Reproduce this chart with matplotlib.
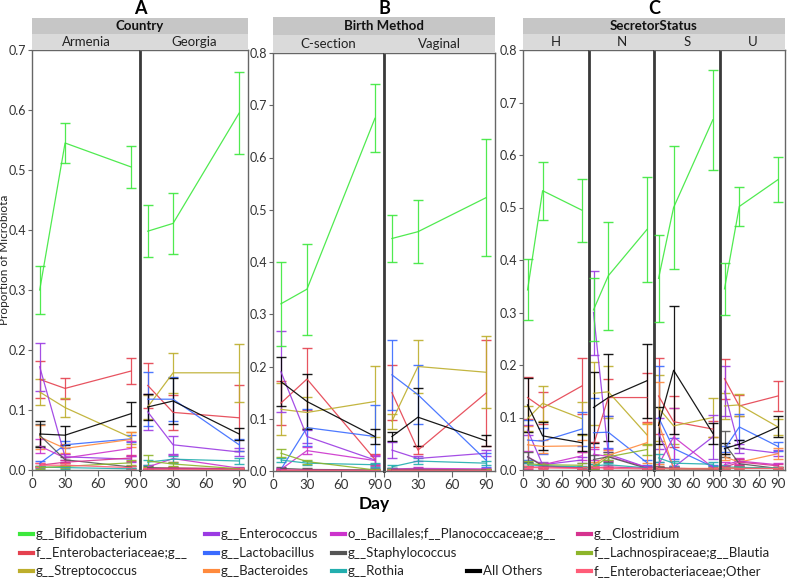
import matplotlib
matplotlib.use("Agg")
import matplotlib.pyplot as plt
from matplotlib.patches import Rectangle
from matplotlib.lines import Line2D

plt.rcParams['font.family'] = ['Lato', 'DejaVu Sans']

# Panel order: Armenia, Georgia, C-section, Vaginal, H, N, S, U
days = [7, 30, 90]
groups = ["Country", "Birth Method", "SecretorStatus"]
group_letters = ["A", "B", "C"]
subpanels = ["Armenia", "Georgia", "C-section", "Vaginal", "H", "N", "S", "U"]
xticks = [0, 30, 60, 90]

bifido_mean = [[0.300, 0.545, 0.505], [0.398, 0.411, 0.595], [0.320, 0.348, 0.675], [0.445, 0.458, 0.523],
               [0.343, 0.532, 0.495], [0.305, 0.370, 0.458], [0.365, 0.500, 0.667], [0.345, 0.502, 0.553]]
bifido_err = [[0.040, 0.034, 0.035], [0.043, 0.051, 0.068], [0.080, 0.087, 0.065], [0.045, 0.060, 0.112],
              [0.058, 0.055, 0.060], [0.060, 0.103, 0.100], [0.083, 0.117, 0.095], [0.050, 0.038, 0.043]]

entg_mean = [[0.151, 0.136, 0.165], [0.141, 0.096, 0.087], [0.130, 0.176, 0.022], [0.150, 0.040, 0.149],
             [0.138, 0.118, 0.160], [0.048, 0.138, 0.138], [0.141, 0.092, 0.078], [0.174, 0.122, 0.141]]
entg_err = [[0.031, 0.017, 0.022], [0.037, 0.029, 0.055], [0.042, 0.059, 0.010], [0.053, 0.007, 0.101],
            [0.040, 0.030, 0.054], [0.005, 0.035, 0.047], [0.073, 0.049, 0.015], [0.038, 0.020, 0.029]]

strep_mean = [[0.130, 0.104, 0.054], [0.105, 0.162, 0.162], [0.118, 0.112, 0.133], [0.095, 0.200, 0.189],
              [0.098, 0.127, 0.098], [0.146, 0.149, 0.067], [0.118, 0.084, 0.100], [0.122, 0.124, 0.082]]
strep_err = [[0.021, 0.016, 0.010], [0.020, 0.033, 0.048], [0.050, 0.029, 0.068], [0.015, 0.051, 0.069],
             [0.023, 0.033, 0.032], [0.060, 0.049, 0.020], [0.063, 0.034, 0.038], [0.024, 0.021, 0.015]]

enteroc_mean = [[0.172, 0.022, 0.018], [0.097, 0.042, 0.030], [0.190, 0.066, 0.021], [0.040, 0.024, 0.034],
                [0.076, 0.010, 0.019], [0.300, 0.030, 0.005], [0.070, 0.005, 0.063], [0.150, 0.041, 0.032]]
enteroc_err = [[0.040, 0.005, 0.005], [0.030, 0.015, 0.006], [0.078, 0.012, 0.008], [0.016, 0.004, 0.006],
               [0.010, 0.005, 0.005], [0.080, 0.010, 0.003], [0.030, 0.003, 0.042], [0.048, 0.008, 0.006]]

lacto_mean = [[0.011, 0.042, 0.052], [0.118, 0.118, 0.042], [0.003, 0.083, 0.066], [0.184, 0.146, 0.021],
              [0.057, 0.055, 0.078], [0.071, 0.072, 0.014], [0.100, 0.041, 0.006], [0.040, 0.082, 0.045]]
lacto_err = [[0.004, 0.006, 0.006], [0.045, 0.037, 0.010], [0.002, 0.036, 0.060], [0.067, 0.057, 0.013],
             [0.038, 0.025, 0.033], [0.067, 0.030, 0.005], [0.098, 0.020, 0.004], [0.005, 0.025, 0.008]]

bactero_mean = [[0.055, 0.036, 0.051], [0.003, 0.003, 0.002], [0.002, 0.002, 0.002], [0.002, 0.002, 0.002],
                [0.048, 0.045, 0.046], [0.010, 0.028, 0.052], [0.090, 0.003, 0.003], [0.025, 0.015, 0.031]]
bactero_err = [[0.020, 0.008, 0.012], [0.002, 0.002, 0.001], [0.001, 0.001, 0.001], [0.001, 0.001, 0.001],
               [0.035, 0.012, 0.012], [0.006, 0.010, 0.038], [0.078, 0.002, 0.002], [0.005, 0.006, 0.010]]

bacill_mean = [[0.040, 0.020, 0.036], [0.005, 0.019, 0.003], [0.003, 0.039, 0.020], [0.004, 0.005, 0.004],
               [0.025, 0.010, 0.027], [0.030, 0.026, 0.005], [0.010, 0.063, 0.005], [0.010, 0.017, 0.010]]
bacill_err = [[0.012, 0.006, 0.012], [0.004, 0.006, 0.002], [0.002, 0.006, 0.010], [0.002, 0.002, 0.002],
              [0.012, 0.004, 0.008], [0.010, 0.008, 0.003], [0.006, 0.055, 0.003], [0.005, 0.006, 0.004]]

staph_mean = [[0.058, 0.017, 0.005], [0.004, 0.003, 0.002], [0.005, 0.003, 0.002], [0.003, 0.003, 0.002],
              [0.025, 0.008, 0.004], [0.020, 0.025, 0.003], [0.005, 0.003, 0.002], [0.050, 0.012, 0.003]]
staph_err = [[0.018, 0.005, 0.002], [0.002, 0.002, 0.001], [0.003, 0.002, 0.001], [0.002, 0.002, 0.001],
             [0.010, 0.004, 0.002], [0.008, 0.010, 0.002], [0.003, 0.002, 0.001], [0.025, 0.005, 0.002]]

rothia_mean = [[0.005, 0.004, 0.002], [0.013, 0.018, 0.015], [0.021, 0.015, 0.012], [0.008, 0.019, 0.015],
               [0.010, 0.008, 0.006], [0.008, 0.010, 0.004], [0.023, 0.013, 0.011], [0.006, 0.005, 0.004]]
rothia_err = [[0.002, 0.002, 0.001], [0.004, 0.006, 0.005], [0.004, 0.004, 0.004], [0.003, 0.006, 0.004],
              [0.004, 0.003, 0.002], [0.004, 0.004, 0.002], [0.008, 0.005, 0.004], [0.003, 0.002, 0.002]]

others_mean = [[0.060, 0.058, 0.094], [0.105, 0.115, 0.060], [0.171, 0.133, 0.066], [0.066, 0.103, 0.058],
               [0.124, 0.065, 0.052], [0.119, 0.138, 0.170], [0.085, 0.190, 0.070], [0.041, 0.049, 0.082]]
others_err = [[0.022, 0.016, 0.020], [0.021, 0.039, 0.010], [0.047, 0.053, 0.015], [0.008, 0.056, 0.011],
              [0.052, 0.027, 0.016], [0.067, 0.083, 0.070], [0.035, 0.122, 0.020], [0.010, 0.008, 0.020]]

clost_mean = [[0.008, 0.013, 0.020], [0.002, 0.003, 0.002], [0.002, 0.002, 0.001], [0.002, 0.002, 0.001],
              [0.005, 0.006, 0.004], [0.004, 0.006, 0.003], [0.003, 0.003, 0.002], [0.005, 0.015, 0.008]]
clost_err = [[0.003, 0.004, 0.005], [0.001, 0.002, 0.001], [0.001, 0.001, 0.001], [0.001, 0.001, 0.001],
             [0.003, 0.003, 0.002], [0.002, 0.003, 0.002], [0.002, 0.002, 0.001], [0.003, 0.006, 0.004]]

blautia_mean = [[0.004, 0.006, 0.012], [0.015, 0.010, 0.002], [0.034, 0.018, 0.002], [0.002, 0.002, 0.002],
                [0.012, 0.010, 0.009], [0.005, 0.025, 0.039], [0.003, 0.002, 0.002], [0.004, 0.003, 0.003]]
blautia_err = [[0.002, 0.003, 0.004], [0.010, 0.004, 0.001], [0.008, 0.004, 0.001], [0.001, 0.001, 0.001],
               [0.005, 0.004, 0.004], [0.003, 0.006, 0.010], [0.002, 0.001, 0.001], [0.002, 0.002, 0.002]]

entoth_mean = [[0.008, 0.008, 0.004], [0.002, 0.002, 0.002], [0.001, 0.001, 0.001], [0.001, 0.001, 0.001],
               [0.005, 0.004, 0.003], [0.005, 0.003, 0.002], [0.003, 0.002, 0.002], [0.004, 0.003, 0.003]]
entoth_err = [[0.003, 0.003, 0.002], [0.001, 0.001, 0.001], [0.001, 0.001, 0.001], [0.001, 0.001, 0.001],
              [0.002, 0.002, 0.002], [0.002, 0.002, 0.001], [0.002, 0.001, 0.001], [0.002, 0.002, 0.002]]

taxa = ["g__Bifidobacterium", "f__Enterobacteriaceae;g__", "g__Streptococcus", "g__Enterococcus",
        "g__Lactobacillus", "g__Bacteroides", "o__Bacillales;f__Planococcaceae;g__", "g__Staphylococcus",
        "g__Rothia", "All Others", "g__Clostridium", "f__Lachnospiraceae;g__Blautia",
        "f__Enterobacteriaceae;Other"]
means = [bifido_mean, entg_mean, strep_mean, enteroc_mean, lacto_mean, bactero_mean, bacill_mean,
         staph_mean, rothia_mean, others_mean, clost_mean, blautia_mean, entoth_mean]
errs = [bifido_err, entg_err, strep_err, enteroc_err, lacto_err, bactero_err, bacill_err,
        staph_err, rothia_err, others_err, clost_err, blautia_err, entoth_err]
colors = ["#3DE83D", "#E5414F", "#BDAE2C", "#9B3BE3", "#3A6BFF", "#FF8A3D", "#CC33CC",
          "#555555", "#22AEAE", "#000000", "#D6338F", "#8DB52A", "#FF5C78"]

W, H = 787, 579
fig = plt.figure(figsize=(W / 100, H / 100), dpi=100)

def fx(x):
    return x / W

def fy(y):
    return 1 - y / H

# panel geometry in pixels: (x edges, top, bottom, ymax)
panel_px = [([32, 140, 248], 50, 470, 0.7),
            ([273, 384, 495], 53, 471, 0.8),
            ([523, 589, 654, 720, 785], 50, 470, 0.8)]
strip_h = [(18, 34), (17, 35), (18, 34)]

k = 0
for g, (xs, top, bot, ymax) in enumerate(panel_px):
    # group strip
    s0, s1 = strip_h[g]
    fig.patches.append(Rectangle((fx(xs[0]), fy(s1)), fx(xs[-1]) - fx(xs[0]), fy(s0) - fy(s1),
                                 transform=fig.transFigure, facecolor="#C6C6C6", edgecolor="none"))
    fig.text(fx((xs[0] + xs[-1]) / 2), fy((s0 + s1) / 2), groups[g], ha="center", va="center",
             fontsize=9.5, fontweight="bold", color="#111111")
    fig.text(fx((xs[0] + xs[-1]) / 2), fy(14), group_letters[g], ha="center", va="baseline",
             fontsize=13, fontweight="bold", color="#000000")
    for j in range(len(xs) - 1):
        x0, x1 = xs[j], xs[j + 1]
        fig.patches.append(Rectangle((fx(x0) + 0.0006, fy(top)), fx(x1) - fx(x0) - 0.0012, fy(s1) - fy(top),
                                     transform=fig.transFigure, facecolor="#DADADA", edgecolor="none"))
        fig.text(fx((x0 + x1) / 2), fy((s1 + top) / 2), subpanels[k], ha="center", va="center",
                 fontsize=9.5, color="#222222")

        ax = fig.add_axes([fx(x0), fy(bot), fx(x1) - fx(x0), fy(top) - fy(bot)])
        for t in range(len(taxa)):
            ax.errorbar(days, means[t][k], yerr=errs[t][k], color=colors[t], lw=0.9,
                        elinewidth=0.9, capsize=3.5, capthick=1.0, alpha=0.9, zorder=3 if t == 0 else 2)
        ax.set_xlim(0, 98 if g < 2 else 101)
        ax.set_ylim(0, ymax)
        ax.set_xticks(xticks, [str(v) for v in xticks])
        ax.tick_params(axis="both", direction="out", length=4, color="#666666", labelsize=9.5,
                       labelcolor="#333333", pad=2)
        ax.tick_params(axis="y", labelsize=9, length=3, pad=1)
        if j == 0:
            yt = [i / 10 for i in range(int(round(ymax * 10)) + 1)]
            ax.set_yticks(yt, ["%.1f" % v for v in yt])
        else:
            ax.set_yticks([])
            ax.get_xticklabels()[0].set_ha("left")
        for side in ["top", "bottom", "left", "right"]:
            ax.spines[side].set_color("#666666")
            ax.spines[side].set_linewidth(1.0)
        if j > 0:
            ax.spines["left"].set_color("#3A3A3A")
            ax.spines["left"].set_linewidth(2.0)
        k += 1

fig.text(fx(4.5), fy(260), "Proportion of Microbiota", rotation=90, ha="center", va="center",
         fontsize=8.5, color="#222222")
fig.text(fx(374), fy(504), "Day", ha="center", va="center", fontsize=12.5, fontweight="bold")

# legend laid out like the original (column-wise, with "All Others" on its own)
leg_cols = [36, 221, 348, 483, 594]
leg_rows = [534, 553, 571]
leg_slots = [(0, 0), (0, 1), (0, 2), (1, 0), (1, 1), (1, 2), (2, 0), (2, 1), (2, 2), (3, 2),
             (4, 0), (4, 1), (4, 2)]
for t, (c, r) in enumerate(leg_slots):
    xt = leg_cols[c]
    yt = leg_rows[r]
    fig.add_artist(Line2D([fx(xt - 16), fx(xt - 3)], [fy(yt), fy(yt)], color=colors[t], lw=3,
                          transform=fig.transFigure))
    fig.text(fx(xt), fy(yt), taxa[t], ha="left", va="center", fontsize=9.5, color="#222222")

fig.savefig("out.png", dpi=100)
